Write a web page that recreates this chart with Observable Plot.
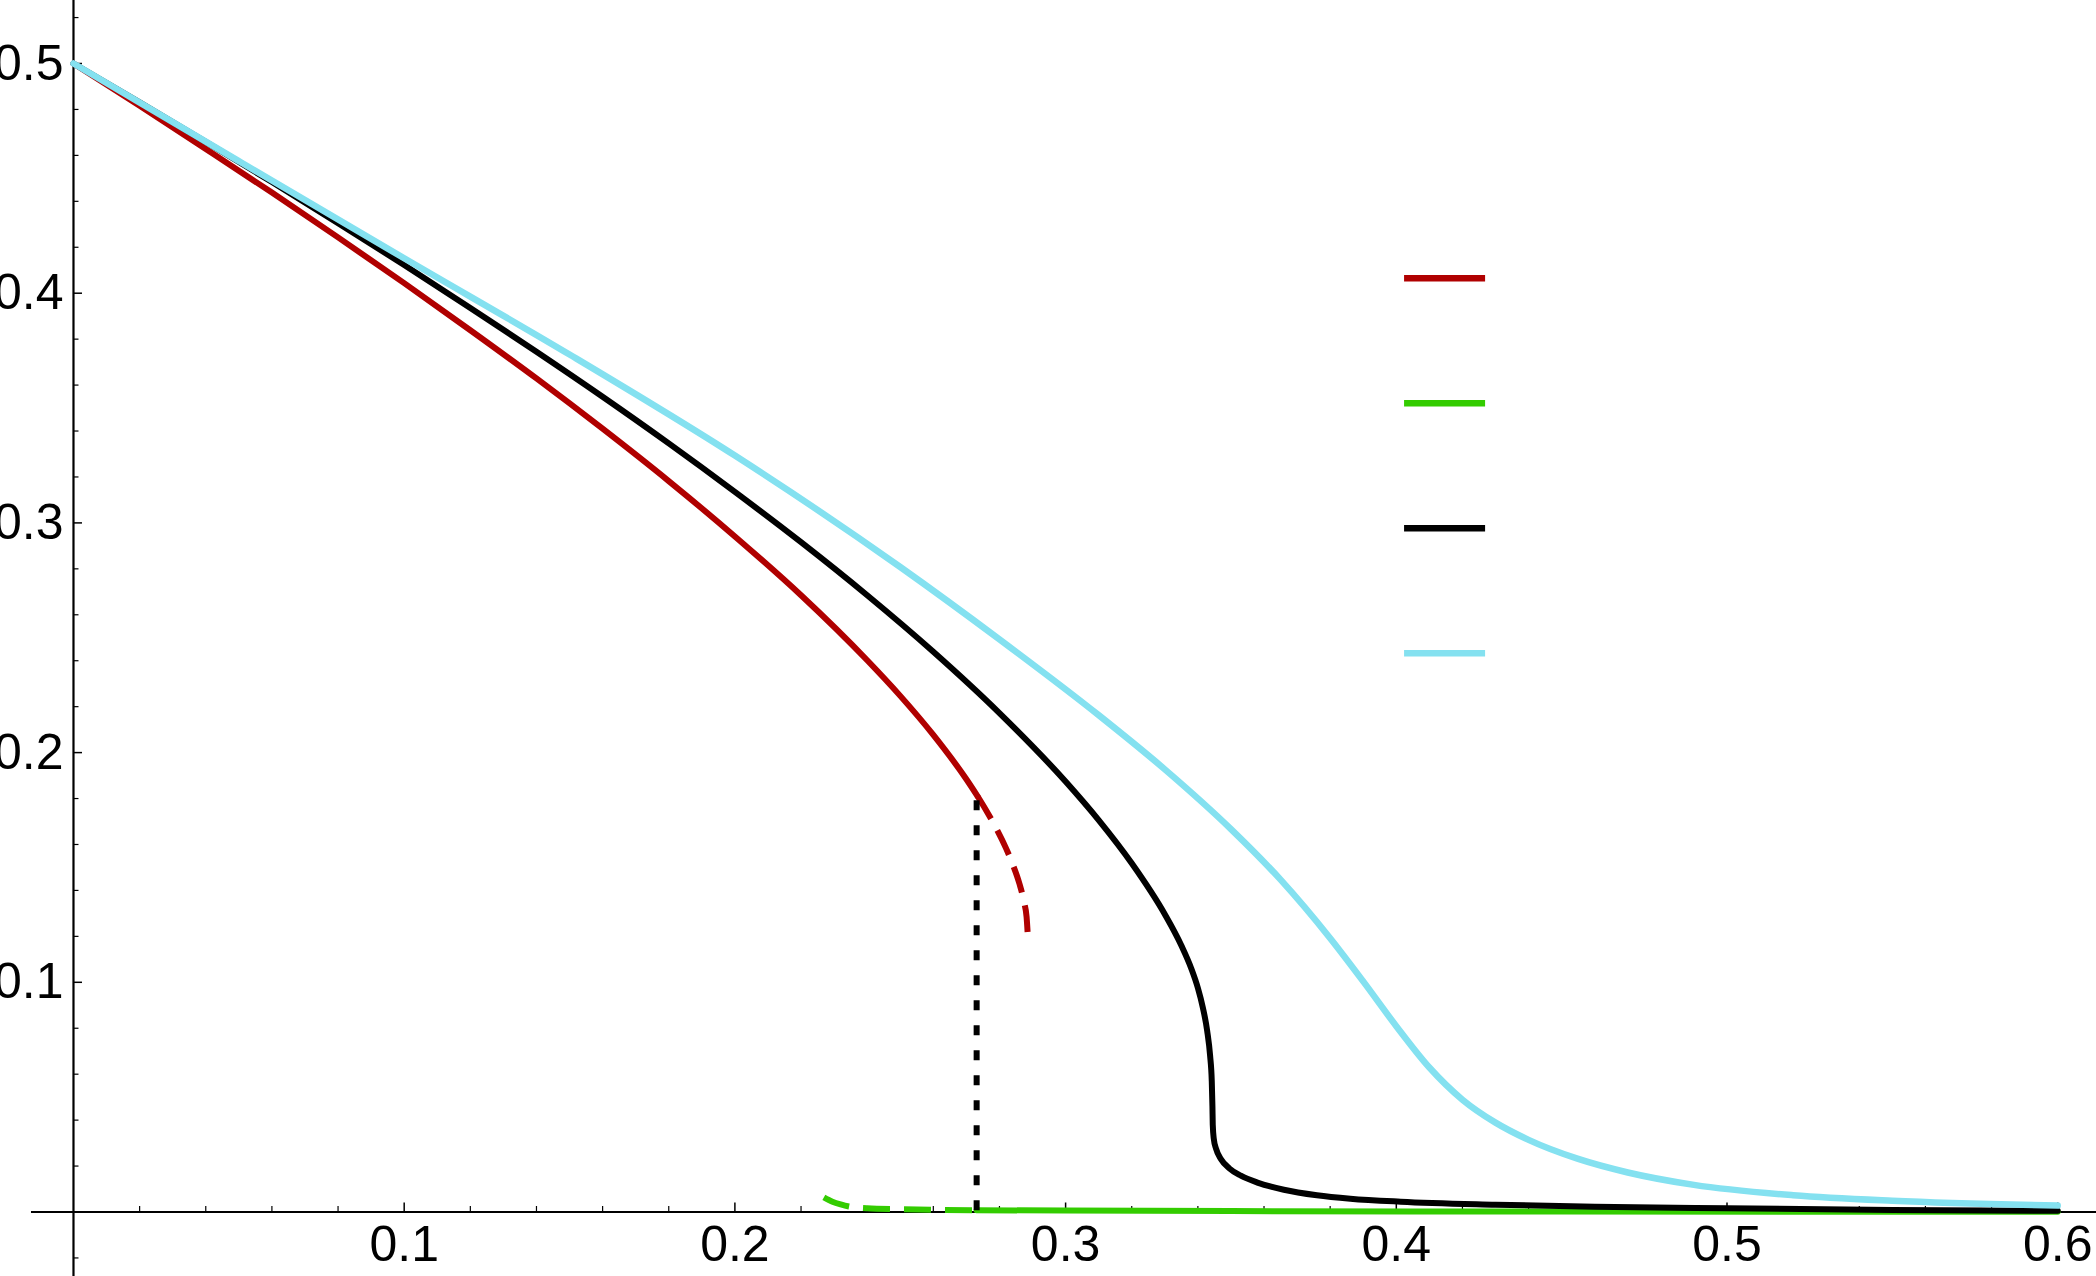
<!DOCTYPE html>
<html>
<head>
<meta charset="utf-8">
<script src="https://cdn.jsdelivr.net/npm/d3@7"></script>
<script src="https://cdn.jsdelivr.net/npm/@observablehq/plot@0.6"></script>
<style>
  html, body { margin: 0; padding: 0; background: #fff; overflow: hidden; }
  svg { display: block; }
</style>
</head>
<body>
<div id="chart"></div>
<script>
// ---- tick labels ----
const xTickValues = [0.1, 0.2, 0.3, 0.4, 0.5, 0.6];
const xTickLabels = ["0.1", "0.2", "0.3", "0.4", "0.5", "0.6"];
const yTickValues = [0.1, 0.2, 0.3, 0.4, 0.5];
const yTickLabels = ["0.1", "0.2", "0.3", "0.4", "0.5"];

// ---- series (x, y) ----
const redStable = [[0,0.5000],[0.02,0.4816],[0.04,0.4628],[0.06,0.4438],[0.08,0.4243],[0.10,0.4044],[0.12,0.3839],[0.14,0.3629],[0.16,0.3410],[0.18,0.3182],[0.20,0.2941],[0.22,0.2685],[0.24,0.2402],[0.25,0.2247],[0.26,0.2077],[0.27,0.1884],[0.2733,0.1812]];
const redUnstable = [[0.2733,0.1812],[0.2760,0.1748],[0.2790,0.1671],[0.2820,0.1583],[0.2840,0.1514],[0.2860,0.1431],[0.2875,0.1345],[0.2882,0.1285],[0.2886,0.1196]];
const greenUnstable = [[0.2269,0.0064],[0.2295,0.0045],[0.2320,0.0033],[0.2345,0.0024],[0.2400,0.0016],[0.2500,0.0012],[0.2731,0.0008]];
const greenStable = [[0.2731,0.0008],[0.3000,0.0006],[0.3500,0.0004],[0.4500,0.0002],[0.6000,0.0001]];
const blackCurve = [[0,0.5000],[0.02,0.4831],[0.04,0.4659],[0.06,0.4484],[0.08,0.4305],[0.10,0.4123],[0.12,0.3936],[0.14,0.3745],[0.16,0.3549],[0.18,0.3346],[0.20,0.3135],[0.22,0.2916],[0.24,0.2685],[0.26,0.2439],[0.28,0.2172],[0.30,0.1874],[0.31,0.1706],[0.32,0.1518],[0.33,0.1296],[0.335,0.1160],[0.338,0.1060],[0.3400,0.0975],[0.3415,0.0890],[0.3428,0.0790],[0.3437,0.0680],[0.3442,0.0570],[0.3444,0.0460],[0.3445,0.0380],[0.3448,0.0320],[0.3455,0.0275],[0.3470,0.0230],[0.3495,0.0190],[0.3530,0.0158],[0.3580,0.0128],[0.3660,0.0097],[0.3760,0.0073],[0.3861,0.0058],[0.4013,0.0045],[0.4300,0.0032],[0.4600,0.0023],[0.5000,0.0016],[0.5500,0.0009],[0.6000,0.0005]];
const cyanCurve = [[0,0.5000],[0.05,0.4575],[0.10,0.4152],[0.15,0.3733],[0.20,0.3293],[0.25,0.2808],[0.28,0.2493],[0.31,0.2163],[0.33,0.1927],[0.35,0.1667],[0.365,0.1447],[0.38,0.1192],[0.39,0.1004],[0.40,0.0809],[0.41,0.0629],[0.42,0.0489],[0.43,0.0389],[0.44,0.0314],[0.455,0.0231],[0.47,0.0172],[0.49,0.0118],[0.52,0.0073],[0.55,0.0049],[0.60,0.0028]];

// vertical dotted marker (x position, top y)
const markerX = [0.2731];
const markerTop = [0.1790];

// legend swatch colours (no labels in the reference)
const legendColors = ["#b00000", "#33cc00", "#000000", "#84e1f0"];

// ---- layout ----
const W = 2096, H = 1276;
const xDomain = [-0.02207, 0.61173];
const yDomain = [-0.02808, 0.52743];
const pxX = (xDomain[1] - xDomain[0]) / W;
const pxY = (yDomain[1] - yDomain[0]) / H;

const xMinor = d3.range(1, 31).map(i => i * 0.02).filter(v => !xTickValues.some(t => Math.abs(t - v) < 1e-9));
const yMinor = d3.range(-1, 27).map(i => i * 0.02).filter(v => Math.abs(v) > 1e-9 && !yTickValues.some(t => Math.abs(t - v) < 1e-9));

const font = "'Liberation Sans', Arial, Helvetica, sans-serif";
const X = d => d[0], Y = d => d[1];

const chart = Plot.plot({
  width: W,
  height: H,
  margin: 0,
  x: {domain: xDomain, axis: null},
  y: {domain: yDomain, axis: null},
  color: {type: "identity"},
  style: {fontFamily: font, background: "#fff"},
  marks: [
    // axes
    Plot.ruleY([0], {x1: -0.0127, x2: xDomain[1], stroke: "#000", strokeWidth: 2}),
    Plot.ruleX([0], {y1: yDomain[0], y2: yDomain[1], stroke: "#000", strokeWidth: 2.2}),
    // x ticks
    Plot.ruleX(xTickValues, {x: d => d, y1: 0, y2: 9 * pxY, stroke: "#000", strokeWidth: 1.5}),
    Plot.ruleX(xMinor, {x: d => d, y1: 0, y2: 5.5 * pxY, stroke: "#000", strokeWidth: 1.2}),
    // y ticks
    Plot.ruleY(yTickValues, {y: d => d, x1: 0, x2: 9 * pxX, stroke: "#000", strokeWidth: 1.5}),
    Plot.ruleY(yMinor, {y: d => d, x1: 0, x2: 5.5 * pxX, stroke: "#000", strokeWidth: 1.2}),
    // tick labels
    Plot.text(xTickValues, {x: d => d, y: 0, text: (d, i) => xTickLabels[i], dy: 33, lineAnchor: "middle", textAnchor: "middle", fontSize: 50, fill: "#000"}),
    Plot.text(yTickValues, {x: 0, y: d => d, text: (d, i) => yTickLabels[i], dx: -10, lineAnchor: "middle", textAnchor: "end", fontSize: 50, fill: "#000"}),
    // curves
    Plot.line(redStable, {x: X, y: Y, stroke: "#b00000", strokeWidth: 6, curve: "monotone-x"}),
    Plot.line(redUnstable, {x: X, y: Y, stroke: "#b00000", strokeWidth: 6, curve: "monotone-x", strokeDasharray: "27,13", strokeLinecap: "butt"}),
    Plot.line(greenUnstable, {x: X, y: Y, stroke: "#33cc00", strokeWidth: 6, curve: "monotone-x", strokeDasharray: "27,14", strokeLinecap: "butt"}),
    Plot.line(greenStable, {x: X, y: Y, stroke: "#33cc00", strokeWidth: 6, curve: "monotone-x"}),
    Plot.line(blackCurve, {x: X, y: Y, stroke: "#000000", strokeWidth: 6, curve: "monotone-x"}),
    Plot.line(cyanCurve, {x: X, y: Y, stroke: "#84e1f0", strokeWidth: 6.5, curve: "monotone-x"}),
    // dotted marker
    Plot.ruleX(markerX, {x: d => d, y1: (d, i) => markerTop[i], y2: 0, stroke: "#000", strokeWidth: 6, strokeDasharray: "10,15", strokeLinecap: "butt"}),
    // legend swatches
    Plot.ruleY(legendColors, {y: (d, i) => 0.4065 - i * 0.0544, x1: 0.4025, x2: 0.4270, stroke: d => d, strokeWidth: 6.5, strokeLinecap: "butt"})
  ]
});

document.getElementById("chart").appendChild(chart);
</script>
</body>
</html>
